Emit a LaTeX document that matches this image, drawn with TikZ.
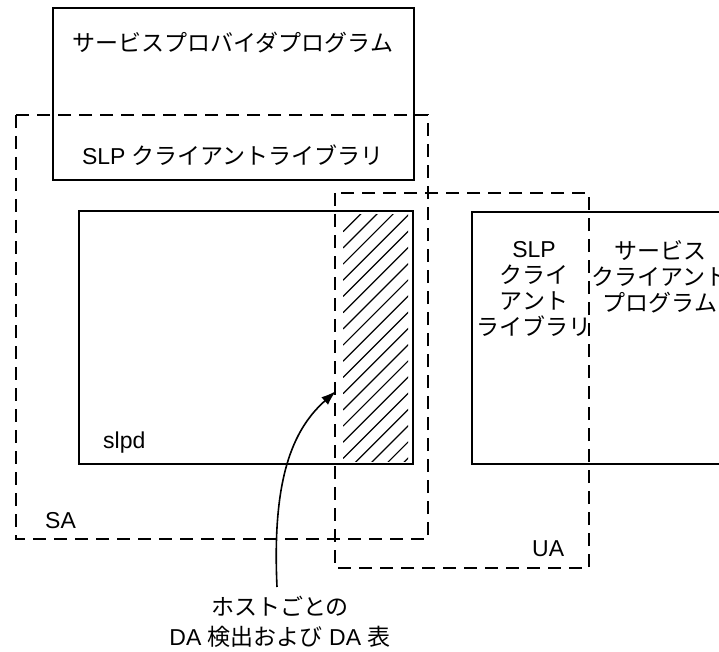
\documentclass[tikz,border=0pt]{standalone}
\usepackage{fontspec}
\setmainfont{Liberation Sans}
\newfontfamily\jp{Noto Sans CJK JP}
\usetikzlibrary{arrows.meta}
\begin{document}
\begin{tikzpicture}[x=1pt,y=-1pt,
  solidbox/.style={draw, line width=1.6pt, inner sep=0pt, outer sep=0pt, anchor=north west},
  dashbox/.style={draw, line width=1.6pt, dash pattern=on 13pt off 8pt},
  lbl/.style={font=\fontsize{23}{26}\selectfont, inner sep=0pt, align=center},
  hatchline/.style={line width=1.2pt},
  arrowline/.style={line width=1.6pt, -{Latex[length=15pt,width=10pt]}}]
\useasboundingbox (0,0) rectangle (719,652);
% solid boxes
\node[solidbox, minimum width=361pt, minimum height=172pt] (prov) at (53,8) {};
\node[solidbox, minimum width=334pt, minimum height=253pt] (slpd) at (79,211) {};
\node[solidbox, minimum width=270pt, minimum height=252pt] (client) at (472,212) {};
% dashed boxes
\draw[dashbox] (16,115) rectangle (428,539);
\draw[dashbox] (335,193) rectangle (589,568);
% hatching
\begin{scope}
  \clip (343,215) rectangle (408,461);
  \foreach \i in {0,...,18}
    \draw[hatchline] (343,231.7+16.2*\i) -- ++(90,-90);
\end{scope}
% labels
\node[lbl] (tprov) at (233,43) {\jp サービスプロバイダプログラム};
\node[lbl] (tslp) at (233,155) {SLP {\jp クライアントライブラリ}};
\node[lbl, anchor=base west] (tslpd) at (103,448) {slpd};
\node[lbl, anchor=base west] (tsa) at (45,528) {SA};
\node[lbl, anchor=base west] (tua) at (532,556) {UA};
\node[lbl] (tslpc) at (534,289) {SLP\\{\jp クライ}\\{\jp アント}\\{\jp ライブラリ}};
\node[lbl] (tsvc) at (660,277) {\jp サービス\\\jp クライアント\\\jp プログラム};
\node[lbl, font=\fontsize{23}{30}\selectfont] (tda) at (280,622) {\jp ホストごとの\\DA {\jp 検出および} DA {\jp 表}};
% arrow
\coordinate (astart) at (277,587);
\coordinate (tip) at (336,391);
\draw[arrowline] (astart) .. controls (272,480) and (292,430) .. (tip);
\end{tikzpicture}
\end{document}
